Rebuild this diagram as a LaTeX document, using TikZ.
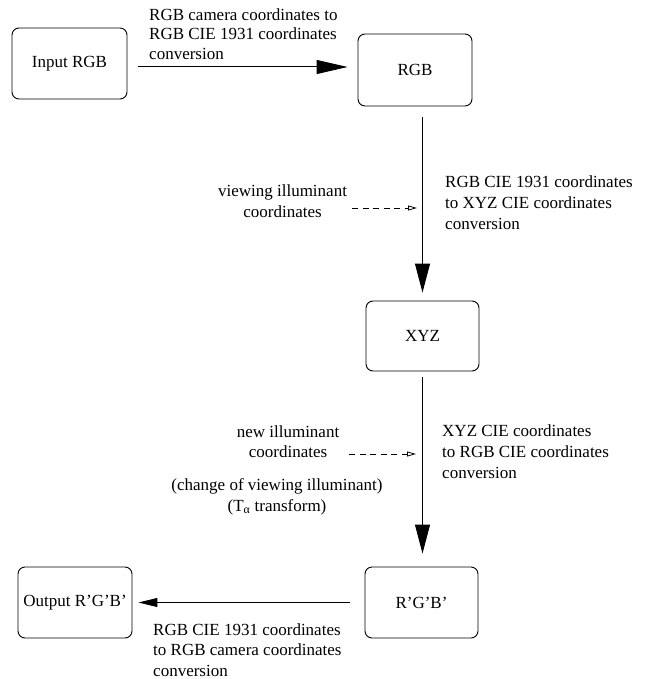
\documentclass[tikz,border=0pt]{standalone}
\usepackage{fontspec}
\setmainfont{Liberation Serif}
\usetikzlibrary{arrows.meta}

\begin{document}
\begin{tikzpicture}[x=1pt,y=-1pt]
\tikzstyle{box}=[draw,rounded corners=7pt,line width=0.9pt,minimum width=114pt,minimum height=71pt,inner sep=0pt,font=\fontsize{17}{20}\selectfont]
\tikzstyle{lbl}=[inner sep=0pt,anchor=north west,align=left,font=\fontsize{17}{21}\selectfont]
\tikzstyle{note}=[inner sep=0pt,anchor=north,align=center,font=\fontsize{17}{20.5}\selectfont]
\tikzstyle{flow}=[line width=1pt]
\tikzstyle{hint}=[line width=0.8pt,dash pattern=on 6pt off 4.5pt,-{Triangle[open,length=9pt,width=5pt]}]
\useasboundingbox (0,0) rectangle (648,679);
\node[box,minimum width=115pt] (1) at (69.5,63.5) {Input RGB};
\node[box,minimum height=72pt] (2) at (415,70) {RGB};
\node[box,minimum width=113pt,minimum height=70pt] (3) at (422.5,336) {XYZ};
\node[box,minimum width=113pt] (4) at (421.5,602.5) {R'G'B'};
\node[box] (5) at (75,602.5) {Output R'G'B'};
\node[lbl,font=\fontsize{17}{19.5}\selectfont] (6) at (149,8.4) {RGB camera coordinates to\\RGB CIE 1931 coordinates\\conversion};
\node[lbl] (7) at (445,176) {RGB CIE 1931 coordinates\\to XYZ CIE coordinates\\conversion};
\node[note] (8) at (282.5,185) {viewing illuminant\\coordinates};
\node[lbl] (9) at (442,424) {XYZ CIE coordinates\\to RGB CIE coordinates\\conversion};
\node[note] (10) at (288,425) {new illuminant\\coordinates};
\node[note] (11) at (277,478.5) {(change of viewing illuminant)\\(T\textsubscript{α} transform)};
\node[lbl,font=\fontsize{17}{20.5}\selectfont] (12) at (153,623) {RGB CIE 1931 coordinates\\to RGB camera coordinates\\conversion};
\coordinate (a) at (352,208);
\coordinate (b) at (349,454);
\draw[flow,-{Triangle[length=31pt,width=14pt]},shorten <=11pt,shorten >=10pt] (1.east |- 0,67) -- (2.west |- 0,67);
\draw[flow,-{Triangle[length=29pt,width=15pt]},shorten <=11pt,shorten >=8pt] (3.north |- 2.south) -- (3.north);
\draw[flow,-{Triangle[length=29pt,width=15pt]},shorten <=6pt,shorten >=13pt] (3.south) -- (3.south |- 4.north);
\draw[flow,-{Triangle[length=19pt,width=9pt]},shorten <=15pt,shorten >=6pt] (4.west) -- (5.east);
\draw[hint,shorten >=5.5pt] (a) -- (3.north |- a);
\draw[hint,shorten >=6.5pt] (b) -- (3.north |- b);
\end{tikzpicture}
\end{document}
